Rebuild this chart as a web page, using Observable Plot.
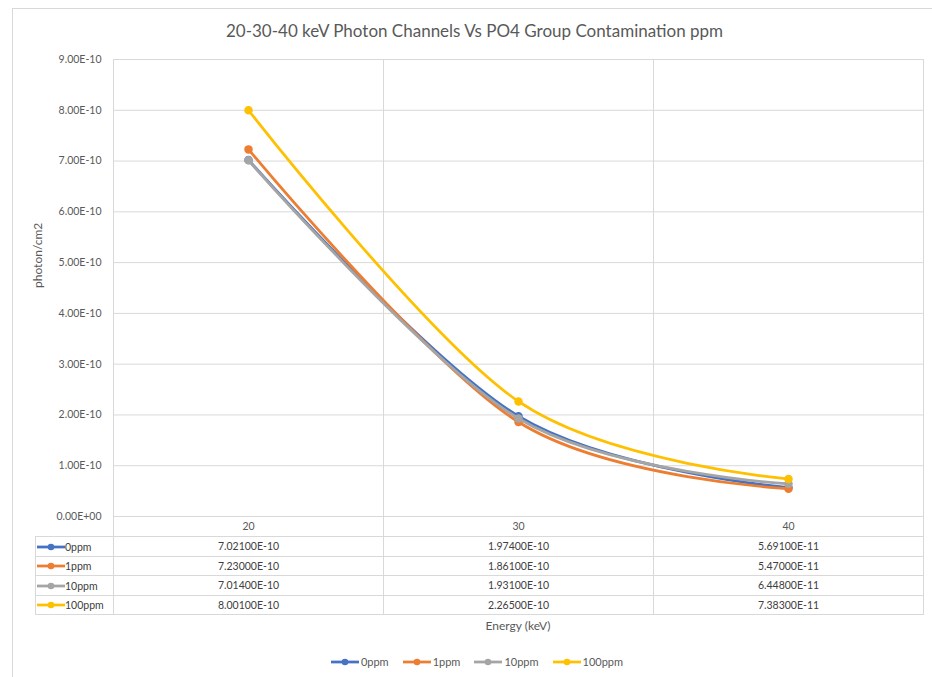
<!DOCTYPE html>
<html>
<head>
<meta charset="utf-8">
<script src="https://cdn.jsdelivr.net/npm/d3@7"></script>
<script src="https://cdn.jsdelivr.net/npm/@observablehq/plot@0.6"></script>
<style>
  html, body { margin: 0; padding: 0; background: #fff; overflow: hidden; }
  #wrap { position: relative; width: 932px; height: 677px; overflow: hidden; font-family: Lato, "Open Sans", sans-serif; color: #595959; }
  #frame { position: absolute; left: 12px; top: 8px; width: 940px; height: 700px; border: 1px solid #d9d9d9; box-sizing: border-box; }
  #title { position: absolute; left: 12px; width: 925px; top: 20px; text-align: center; font-size: 17px; line-height: 22px; color: #595959; }
  #plot { position: absolute; left: 0; top: 0; }
  #table { position: absolute; border-collapse: collapse; table-layout: fixed; font-size: 10.5px; color: #404040; }
  #table td { border: 1px solid #d9d9d9; height: 18.5px; padding: 0; text-align: center; white-space: nowrap; }
  #table td.lab { text-align: left; padding-left: 1px; }
  #xlabel { position: absolute; top: 617px; font-size: 12px; line-height: 18px; text-align: center; color: #595959; }
  #legend { position: absolute; left: 12px; width: 930px; top: 653px; display: flex; justify-content: center; gap: 14px; font-size: 11px; line-height: 18px; color: #595959; }
  .item { display: flex; align-items: center; }
  .sw { display: inline-block; vertical-align: middle; }
</style>
</head>
<body>
<div id="wrap">
  <div id="frame"></div>
  <div id="title">20-30-40 keV Photon Channels Vs PO4 Group Contamination ppm</div>
  <div id="plot"></div>
  <div id="xlabel">Energy (keV)</div>
  <div id="legend"></div>
</div>
<script>
// ---- data ----
const energy = [20, 30, 40];
const seriesNames = ["0ppm", "1ppm", "10ppm", "100ppm"];
const ppm0   = [7.021e-10, 1.974e-10, 5.691e-11];
const ppm1   = [7.230e-10, 1.861e-10, 5.470e-11];
const ppm10  = [7.014e-10, 1.931e-10, 6.448e-11];
const ppm100 = [8.001e-10, 2.265e-10, 7.383e-11];
const yTicks = [0, 1e-10, 2e-10, 3e-10, 4e-10, 5e-10, 6e-10, 7e-10, 8e-10, 9e-10];
const yTitle = "photon/cm2";
const xTitle = "Energy (keV)";

const seriesValues = [ppm0, ppm1, ppm10, ppm100];
const colors = ["#4472C4", "#ED7D31", "#A5A5A5", "#FFC000"];

const rows = seriesNames.flatMap((s, i) => energy.map((e, j) => ({series: s, energy: e, value: seriesValues[i][j]})));

function fmtExp(v, digits) {
  let s = v.toExponential(digits).toUpperCase();
  return s.replace(/E([+-])(\d)$/, "E$10$2");
}

// category boundaries (midpoints between categories, plus outer edges)
const step = energy[1] - energy[0];
const bounds = [energy[0] - step / 2, ...energy.map(e => e + step / 2)];

const marks = [
  Plot.ruleY(yTicks, {stroke: "#d9d9d9", strokeWidth: 1}),
  Plot.ruleX(bounds, {stroke: "#d9d9d9", strokeWidth: 1, insetBottom: -20}),
];
seriesNames.forEach((s, i) => {
  const d = rows.filter(r => r.series === s);
  marks.push(Plot.line(d, {x: "energy", y: "value", stroke: colors[i], strokeWidth: 2.75, curve: "cardinal"}));
  marks.push(Plot.dot(d, {x: "energy", y: "value", fill: colors[i], stroke: colors[i], r: 3.5}));
});
marks.push(Plot.text([yTitle], {frameAnchor: "left", dx: -75, rotate: -90, fontSize: 12, fill: "#595959"}));

const chart = Plot.plot({
  width: 932,
  height: 536,
  marginLeft: 113,
  marginRight: 9,
  marginTop: 59,
  marginBottom: 20,
  style: {fontFamily: "Lato, 'Open Sans', sans-serif", fontSize: "10.5px", color: "#595959", background: "transparent"},
  x: {type: "linear", domain: [bounds[0], bounds[bounds.length - 1]], ticks: energy, tickSize: 0, tickPadding: 6, tickFormat: d => String(d), label: null},
  y: {domain: [0, 9e-10], ticks: yTicks, tickSize: 0, tickPadding: 12, tickFormat: v => fmtExp(v, 2), label: null},
  marks
});
document.getElementById("plot").appendChild(chart);

// ---- data table, columns aligned with the x scale ----
const xs = chart.scale("x");
const edges = bounds.map(b => xs.apply(b));
const tableLeft = 35;
const table = document.createElement("table");
table.id = "table";
table.style.left = tableLeft + "px";
table.style.top = "536px";
const colgroup = document.createElement("colgroup");
const widths = [edges[0] - tableLeft, ...energy.map((e, j) => edges[j + 1] - edges[j])];
widths.forEach(w => { const c = document.createElement("col"); c.style.width = w + "px"; colgroup.appendChild(c); });
table.appendChild(colgroup);
table.style.width = (edges[edges.length - 1] - tableLeft) + "px";

function swatch(color) {
  return `<svg class="sw" width="28" height="8"><line x1="0" y1="4" x2="28" y2="4" stroke="${color}" stroke-width="2.75"/><circle cx="14" cy="4" r="3.3" fill="${color}"/></svg>`;
}
seriesNames.forEach((s, i) => {
  const tr = document.createElement("tr");
  const td0 = document.createElement("td");
  td0.className = "lab";
  td0.innerHTML = swatch(colors[i]) + `<span style="vertical-align:middle">${s}</span>`;
  tr.appendChild(td0);
  seriesValues[i].forEach(v => {
    const td = document.createElement("td");
    td.textContent = fmtExp(v, 5);
    tr.appendChild(td);
  });
  table.appendChild(tr);
});
document.getElementById("wrap").appendChild(table);

// x title centred under plot area
const xl = document.getElementById("xlabel");
xl.textContent = xTitle;
xl.style.left = edges[0] + "px";
xl.style.width = (edges[edges.length - 1] - edges[0]) + "px";

// legend
const lg = document.getElementById("legend");
seriesNames.forEach((s, i) => {
  const it = document.createElement("div");
  it.className = "item";
  it.innerHTML = swatch(colors[i]) + `<span style="margin-left:2px">${s}</span>`;
  lg.appendChild(it);
});
</script>
</body>
</html>
